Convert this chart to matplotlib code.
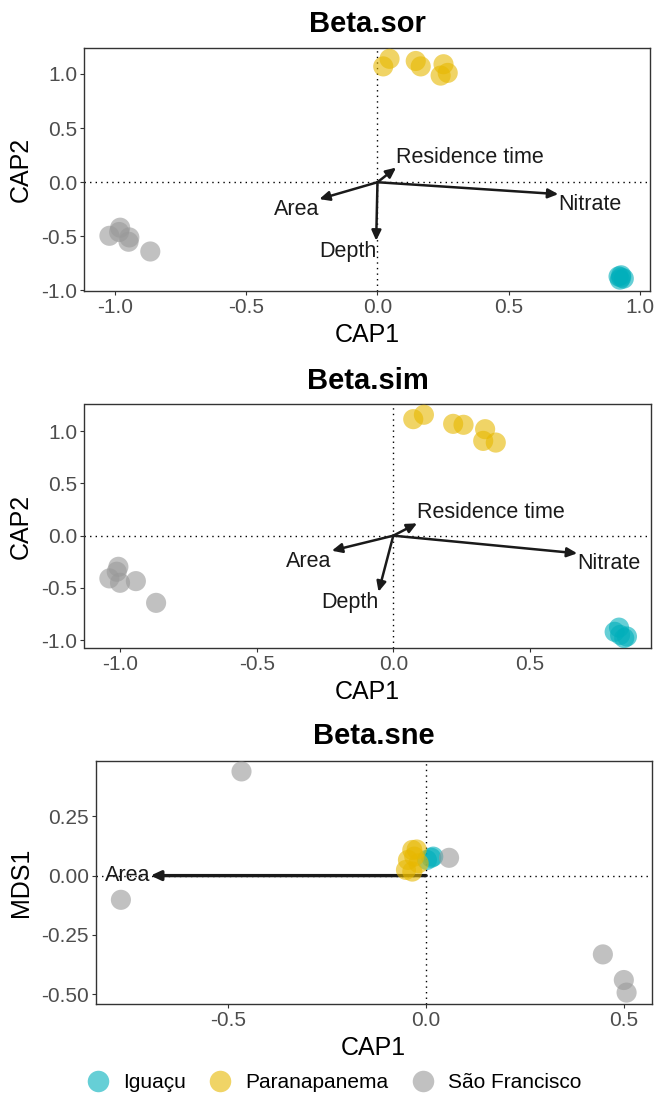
import matplotlib
matplotlib.use('Agg')
import matplotlib.pyplot as plt
from matplotlib.lines import Line2D

plt.rcParams['font.family'] = ['Liberation Sans', 'DejaVu Sans']
plt.rcParams['axes.unicode_minus'] = False

W, H = 655, 1097

groups = ['Iguaçu', 'Paranapanema', 'São Francisco']
group_colors = ['#00AFBB', '#E7B800', '#999999']

# ---------------- Panel 1: Beta.sor ----------------
sor_igu_x = [0.920, 0.930, 0.925, 0.940, 0.930]
sor_igu_y = [-0.870, -0.880, -0.900, -0.890, -0.860]
sor_par_x = [0.022, 0.046, 0.146, 0.165, 0.252, 0.241, 0.268]
sor_par_y = [1.070, 1.140, 1.120, 1.070, 1.090, 0.985, 1.010]
sor_sf_x = [-1.023, -0.982, -0.986, -0.950, -0.947, -0.867]
sor_sf_y = [-0.495, -0.420, -0.460, -0.550, -0.510, -0.640]
sor_vars = ['Residence time', 'Area', 'Nitrate', 'Depth']
sor_vec_x = [0.071, -0.222, 0.690, -0.005]
sor_vec_y = [0.135, -0.156, -0.110, -0.540]
sor_xticks = [-1.0, -0.5, 0.0, 0.5, 1.0]
sor_yticks = [-1.0, -0.5, 0.0, 0.5, 1.0]

# ---------------- Panel 2: Beta.sim ----------------
sim_igu_x = [0.826, 0.810, 0.830, 0.845, 0.855]
sim_igu_y = [-0.880, -0.920, -0.950, -0.980, -0.965]
sim_par_x = [0.073, 0.112, 0.219, 0.257, 0.336, 0.329, 0.375]
sim_par_y = [1.115, 1.157, 1.070, 1.061, 1.019, 0.907, 0.891]
sim_sf_x = [-1.039, -1.006, -1.012, -1.000, -0.942, -0.868]
sim_sf_y = [-0.409, -0.298, -0.345, -0.451, -0.435, -0.643]
sim_vars = ['Residence time', 'Area', 'Nitrate', 'Depth']
sim_vec_x = [0.087, -0.225, 0.673, -0.054]
sim_vec_y = [0.118, -0.144, -0.169, -0.537]
sim_xticks = [-1.0, -0.5, 0.0, 0.5]
sim_yticks = [-1.0, -0.5, 0.0, 0.5, 1.0]

# ---------------- Panel 3: Beta.sne ----------------
sne_igu_x = [0.013, 0.002, 0.018]
sne_igu_y = [0.075, 0.066, 0.080]
sne_par_x = [-0.035, -0.024, -0.046, -0.030, -0.051, -0.035, -0.019]
sne_par_y = [0.108, 0.110, 0.066, 0.080, 0.024, 0.017, 0.052]
sne_sf_x = [-0.467, -0.772, 0.058, 0.447, 0.500, 0.507]
sne_sf_y = [0.439, -0.102, 0.075, -0.332, -0.440, -0.493]
sne_vars = ['Area']
sne_vec_x = [-0.697]
sne_vec_y = [0.0]
sne_xticks = [-0.5, 0.0, 0.5]
sne_yticks = [-0.50, -0.25, 0.00, 0.25]

panels = [
    dict(title='Beta.sor', ylabel='CAP2',
         pts=[(sor_igu_x, sor_igu_y), (sor_par_x, sor_par_y), (sor_sf_x, sor_sf_y)],
         vars=sor_vars, vx=sor_vec_x, vy=sor_vec_y,
         xlim=(-1.12, 1.04), ylim=(-1.005, 1.24),
         xticks=sor_xticks, yticks=sor_yticks, yfmt='{:.1f}', xfmt='{:.1f}',
         rect=(84, 650, 48, 291), tbase=32.5, arrow_lw=1.8),
    dict(title='Beta.sim', ylabel='CAP2',
         pts=[(sim_igu_x, sim_igu_y), (sim_par_x, sim_par_y), (sim_sf_x, sim_sf_y)],
         vars=sim_vars, vx=sim_vec_x, vy=sim_vec_y,
         xlim=(-1.13, 0.943), ylim=(-1.075, 1.26),
         xticks=sim_xticks, yticks=sim_yticks, yfmt='{:.1f}', xfmt='{:.1f}',
         rect=(84.5, 651, 404, 648), tbase=389, arrow_lw=1.8),
    dict(title='Beta.sne', ylabel='MDS1',
         pts=[(sne_igu_x, sne_igu_y), (sne_par_x, sne_par_y), (sne_sf_x, sne_sf_y)],
         vars=sne_vars, vx=sne_vec_x, vy=sne_vec_y,
         xlim=(-0.835, 0.570), ylim=(-0.541, 0.485),
         xticks=sne_xticks, yticks=sne_yticks, yfmt='{:.2f}', xfmt='{:.1f}',
         rect=(96, 651.5, 760.5, 1004), tbase=744, arrow_lw=2.4),
]

fig = plt.figure(figsize=(W / 100, H / 100), dpi=100)

ink = '#1a1a1a'
for p in panels:
    l, r, t, b = p['rect']
    ax = fig.add_axes([l / W, 1 - b / H, (r - l) / W, (b - t) / H])
    ax.axhline(0, color='black', ls=(0, (1, 3)), lw=1.0, zorder=1)
    ax.axvline(0, color='black', ls=(0, (1, 3)), lw=1.0, zorder=1)
    for name, x, y in zip(p['vars'], p['vx'], p['vy']):
        ax.annotate('', xy=(x, y), xytext=(0, 0),
                    arrowprops=dict(arrowstyle='-|>,head_length=0.6,head_width=0.28',
                                    color=ink, lw=p['arrow_lw'], shrinkA=0, shrinkB=0),
                    zorder=2)
        ha = 'left' if x > 0 else ('right' if x < 0 else 'center')
        va = 'bottom' if y > 0 else ('top' if y < 0 else 'center')
        ax.text(x, y, name, ha=ha, va=va, fontsize=15.5, color=ink, zorder=4)
    for color, (xs, ys) in zip(group_colors, p['pts']):
        ax.scatter(xs, ys, s=210, color=color, alpha=0.6, edgecolors='none', zorder=3)
    ax.set_xlim(*p['xlim'])
    ax.set_ylim(*p['ylim'])
    ax.set_xticks(p['xticks'])
    ax.set_xticklabels([p['xfmt'].format(v) for v in p['xticks']])
    ax.set_yticks(p['yticks'])
    ax.set_yticklabels([p['yfmt'].format(v) for v in p['yticks']])
    for s in ax.spines.values():
        s.set_color('#333333')
        s.set_linewidth(1.0)
    ax.tick_params(axis='both', colors='#333333', length=3, width=0.8,
                   labelsize=15, labelcolor='#4D4D4D', pad=2)
    cx = (l + r) / 2
    fig.text(cx / W, 1 - p['tbase'] / H, p['title'], ha='center', va='baseline',
             fontsize=21, fontweight='bold', color='black')
    fig.text(cx / W, 1 - (b + 51) / H, 'CAP1', ha='center', va='baseline',
             fontsize=18, color='black')
    fig.text(21 / W, 1 - ((t + b) / 2) / H, p['ylabel'], ha='center', va='center',
             rotation=90, fontsize=18, color='black')

handles = [Line2D([], [], marker='o', ls='', markersize=15.5, markerfacecolor=c,
                  markeredgecolor='none', alpha=0.6) for c in group_colors]
fig.legend(handles, groups, loc='center', bbox_to_anchor=(334.6 / W, 1 - 1083 / H),
           ncol=3, frameon=False, fontsize=15, handlelength=1.0,
           handletextpad=0.7, columnspacing=1.16)

fig.savefig('out.png', dpi=100)
